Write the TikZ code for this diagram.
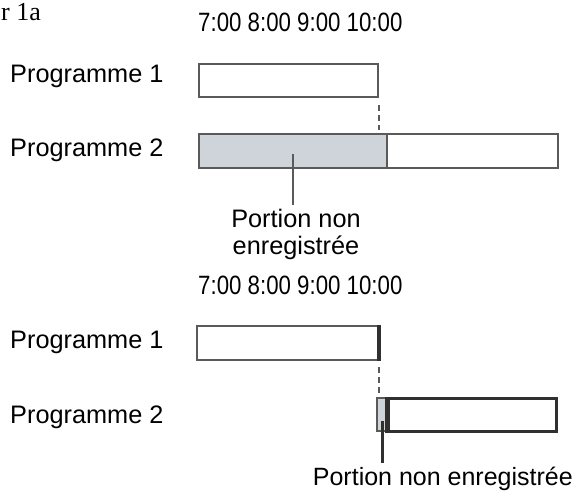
\documentclass[tikz,border=0pt]{standalone}
\usepackage{fontspec}
\setmainfont{Liberation Sans}
\newfontfamily\heurefont[FakeStretch=0.84]{Liberation Sans}
\newfontfamily\titrefont{Liberation Serif}
\usetikzlibrary{positioning}
\definecolor{cadre}{HTML}{5A5A5A}
\definecolor{fonce}{HTML}{303030}
\definecolor{grisperdu}{HTML}{CFD4DA}
\tikzset{
  prog/.style={font=\fontsize{25.3}{27}\selectfont, anchor=base west, inner sep=0pt},
  heure/.style={font=\heurefont\fontsize{26.5}{28}\selectfont, anchor=base west, inner sep=0pt},
  creneau/.style={draw=cadre, line width=2pt, fill=white, rectangle, inner sep=0pt, anchor=north west},
  perdu/.style={creneau, fill=grisperdu},
  repere/.style={draw=cadre, line width=2pt, dash pattern=on 6pt off 4pt},
  renvoi/.style={draw=cadre, line width=2pt},
  trait/.style={draw=fonce, line width=3.5pt}
}
\begin{document}
\begin{tikzpicture}[x=1pt,y=-1pt]
  \useasboundingbox (0,0) rectangle (576,495);
  \node[font=\titrefont\fontsize{26}{28}\selectfont, anchor=base west, inner sep=0pt] (fig) at (1,21) {r 1a};

  % avant
  \node[heure] (ha) at (198,32) {7:00 8:00 9:00 10:00};
  \node[prog] (p1a) at (10,82) {Programme 1};
  \node[prog] (p2a) at (10,156) {Programme 2};
  \node[creneau, minimum width=179pt, minimum height=33pt] (b1a) at (198,63) {};
  \node[creneau, minimum width=171pt, minimum height=34pt] (b2a) at (386,133) {};
  \node[perdu, minimum width=188pt, minimum height=34pt] (gris1) at (198,133) {};
  \draw[repere] (b1a.south east) ++(0,7) -- ++(0,25);
  \node[font=\fontsize{25.3}{27}\selectfont, align=center, anchor=north, inner sep=4pt] (lbl1) at (296,205) {Portion non\\enregistrée};
  \draw[renvoi] ([yshift=-3pt]gris1.center) -- (gris1.center |- lbl1.north);

  % apres
  \node[heure] (hb) at (198,294) {7:00 8:00 9:00 10:00};
  \node[prog] (p1b) at (10,348) {Programme 1};
  \node[prog] (p2b) at (10,423) {Programme 2};
  \node[creneau, minimum width=181pt, minimum height=34pt] (b1b) at (196,325) {};
  \draw[trait] (b1b.north east) -- (b1b.south east);
  \draw[repere] (b1b.south east) ++(0,6) -- ++(0,27);
  \node[creneau, draw=fonce, line width=2.5pt, minimum width=168pt, minimum height=33pt] (b2b) at (387,397) {};
  \node[perdu, minimum width=11pt, minimum height=33pt] (gris2) at (376,397) {};
  \draw[trait] (b2b.north west) -- (b2b.south west);
  \node[font=\fontsize{25}{27}\selectfont, anchor=base east, inner sep=3pt] (lbl2) at (576,485) {Portion non enregistrée};
  \draw[renvoi, draw=fonce, line width=2.5pt] ([yshift=-6pt]gris2.center) -- (gris2.center |- lbl2.north);
\end{tikzpicture}
\end{document}
